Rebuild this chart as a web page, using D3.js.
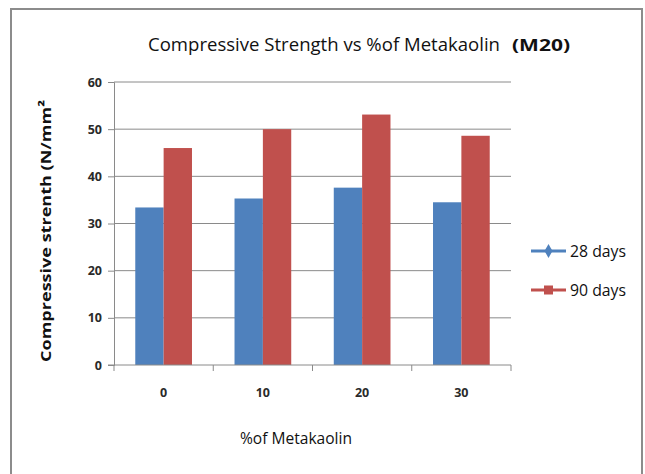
<!DOCTYPE html>
<html>
<head>
<meta charset="utf-8">
<script src="https://cdn.jsdelivr.net/npm/d3@7"></script>
<style>
  html, body { margin: 0; padding: 0; background: #fff; }
  svg { display: block; }
</style>
</head>
<body>
<svg id="chart" width="645" height="474"></svg>
<script>
// Compressive strength (N/mm²) of M20 concrete at 28 and 90 days
const categories = ["0", "10", "20", "30"];
const seriesNames = ["28 days", "90 days"];
const days28 = [33.4, 35.3, 37.6, 34.5];
const days90 = [46.0, 50.0, 53.1, 48.6];
const yTicks = [0, 10, 20, 30, 40, 50, 60];

const colors = { "28 days": "#4f81bd", "90 days": "#c0504d" };
const seriesValues = { "28 days": days28, "90 days": days90 };

const rows = categories.map((c, i) => ({
  cat: c,
  values: seriesNames.map(s => ({ key: s, value: seriesValues[s][i] }))
}));

const svg = d3.select("#chart");
const plot = { left: 114, right: 511, top: 82, bottom: 365 };
const sans = "'Open Sans', 'Noto Sans', sans-serif";

// outer chart frame
svg.append("rect")
  .attr("x", 11).attr("y", 9)
  .attr("width", 631).attr("height", 480)
  .attr("fill", "#fff")
  .attr("stroke", "#8c8c8c")
  .attr("stroke-width", 2);

const x0 = d3.scaleBand().domain(categories).range([plot.left, plot.right]).padding(0);
const x1 = d3.scaleBand().domain(seriesNames).range([0, x0.bandwidth()])
  .paddingInner(0).paddingOuter(0.75);
const y = d3.scaleLinear().domain([0, 60]).range([plot.bottom, plot.top]);

// horizontal gridlines
svg.append("g")
  .selectAll("line")
  .data(yTicks.filter(t => t > 0))
  .join("line")
  .attr("x1", plot.left).attr("x2", plot.right)
  .attr("y1", d => y(d)).attr("y2", d => y(d))
  .attr("stroke", "#8a8a8a")
  .attr("stroke-width", 1);

// bars
svg.append("g")
  .selectAll("g")
  .data(rows)
  .join("g")
  .attr("transform", d => `translate(${x0(d.cat)},0)`)
  .selectAll("rect")
  .data(d => d.values)
  .join("rect")
  .attr("x", d => x1(d.key))
  .attr("width", x1.bandwidth())
  .attr("y", d => y(d.value))
  .attr("height", d => y(0) - y(d.value))
  .attr("fill", d => colors[d.key]);

// y axis
const yAxis = d3.axisLeft(y).tickValues(yTicks).tickSize(6).tickPadding(6);
const gy = svg.append("g")
  .attr("transform", `translate(${plot.left},0)`)
  .call(yAxis);
gy.select(".domain").attr("stroke", "#8a8a8a");
gy.selectAll(".tick line").attr("stroke", "#8a8a8a");
gy.selectAll(".tick text")
  .attr("font-family", sans)
  .attr("font-size", 12.5)
  .attr("font-weight", "bold")
  .attr("fill", "#2a2a2a");

// x axis with ticks on category boundaries
const gx = svg.append("g")
  .attr("transform", `translate(0,${plot.bottom})`);
gx.append("line")
  .attr("x1", plot.left - 6).attr("x2", plot.right)
  .attr("stroke", "#8a8a8a");
const boundaries = categories.map(c => x0(c)).concat([x0(categories[categories.length - 1]) + x0.bandwidth()]);
gx.selectAll("line.tk")
  .data(boundaries)
  .join("line")
  .attr("class", "tk")
  .attr("x1", d => d).attr("x2", d => d)
  .attr("y1", 0).attr("y2", 6)
  .attr("stroke", "#8a8a8a");
gx.selectAll("text")
  .data(categories)
  .join("text")
  .attr("x", d => x0(d) + x0.bandwidth() / 2)
  .attr("y", 32)
  .attr("text-anchor", "middle")
  .attr("font-family", sans)
  .attr("font-size", 12.5)
  .attr("font-weight", "bold")
  .attr("fill", "#2a2a2a")
  .text(d => d);

// title, in two parts
svg.append("text")
  .attr("x", 148).attr("y", 51)
  .attr("font-family", sans)
  .attr("font-size", 17.5)
  .attr("fill", "#111")
  .attr("textLength", 352)
  .attr("lengthAdjust", "spacingAndGlyphs")
  .text("Compressive Strength vs %of Metakaolin");
svg.append("text")
  .attr("x", 512).attr("y", 51)
  .attr("font-family", sans)
  .attr("font-size", 16)
  .attr("font-weight", "bold")
  .attr("fill", "#111")
  .attr("textLength", 58)
  .attr("lengthAdjust", "spacingAndGlyphs")
  .text("(M20)");

// y axis title
svg.append("text")
  .attr("transform", "translate(51,231) rotate(-90)")
  .attr("text-anchor", "middle")
  .attr("font-family", sans)
  .attr("font-size", 15)
  .attr("font-weight", "bold")
  .attr("fill", "#111")
  .attr("textLength", 262)
  .attr("lengthAdjust", "spacingAndGlyphs")
  .text("Compressive strenth (N/mm²");

// x axis title
svg.append("text")
  .attr("x", 296).attr("y", 444)
  .attr("text-anchor", "middle")
  .attr("font-family", sans)
  .attr("font-size", 16)
  .attr("fill", "#111")
  .attr("textLength", 112)
  .attr("lengthAdjust", "spacingAndGlyphs")
  .text("%of Metakaolin");

// legend
const legend = svg.append("g");
const legendY = d3.scalePoint().domain(seriesNames).range([251, 290]);
const item = legend.selectAll("g")
  .data(seriesNames)
  .join("g")
  .attr("transform", d => `translate(0,${legendY(d)})`);
item.append("line")
  .attr("x1", 531).attr("x2", 566)
  .attr("stroke", d => colors[d])
  .attr("stroke-width", 3);
item.filter(d => d === "28 days").append("path")
  .attr("d", d3.symbol(d3.symbolDiamond, 55)())
  .attr("transform", "translate(548.5,0)")
  .attr("fill", d => colors[d]);
item.filter(d => d === "90 days").append("rect")
  .attr("x", 544).attr("y", -4.5)
  .attr("width", 9).attr("height", 9)
  .attr("fill", d => colors[d]);
item.append("text")
  .attr("x", 570).attr("y", 6)
  .attr("font-family", sans)
  .attr("font-size", 16)
  .attr("fill", "#111")
  .attr("textLength", 56)
  .attr("lengthAdjust", "spacingAndGlyphs")
  .text(d => d);
</script>
</body>
</html>
